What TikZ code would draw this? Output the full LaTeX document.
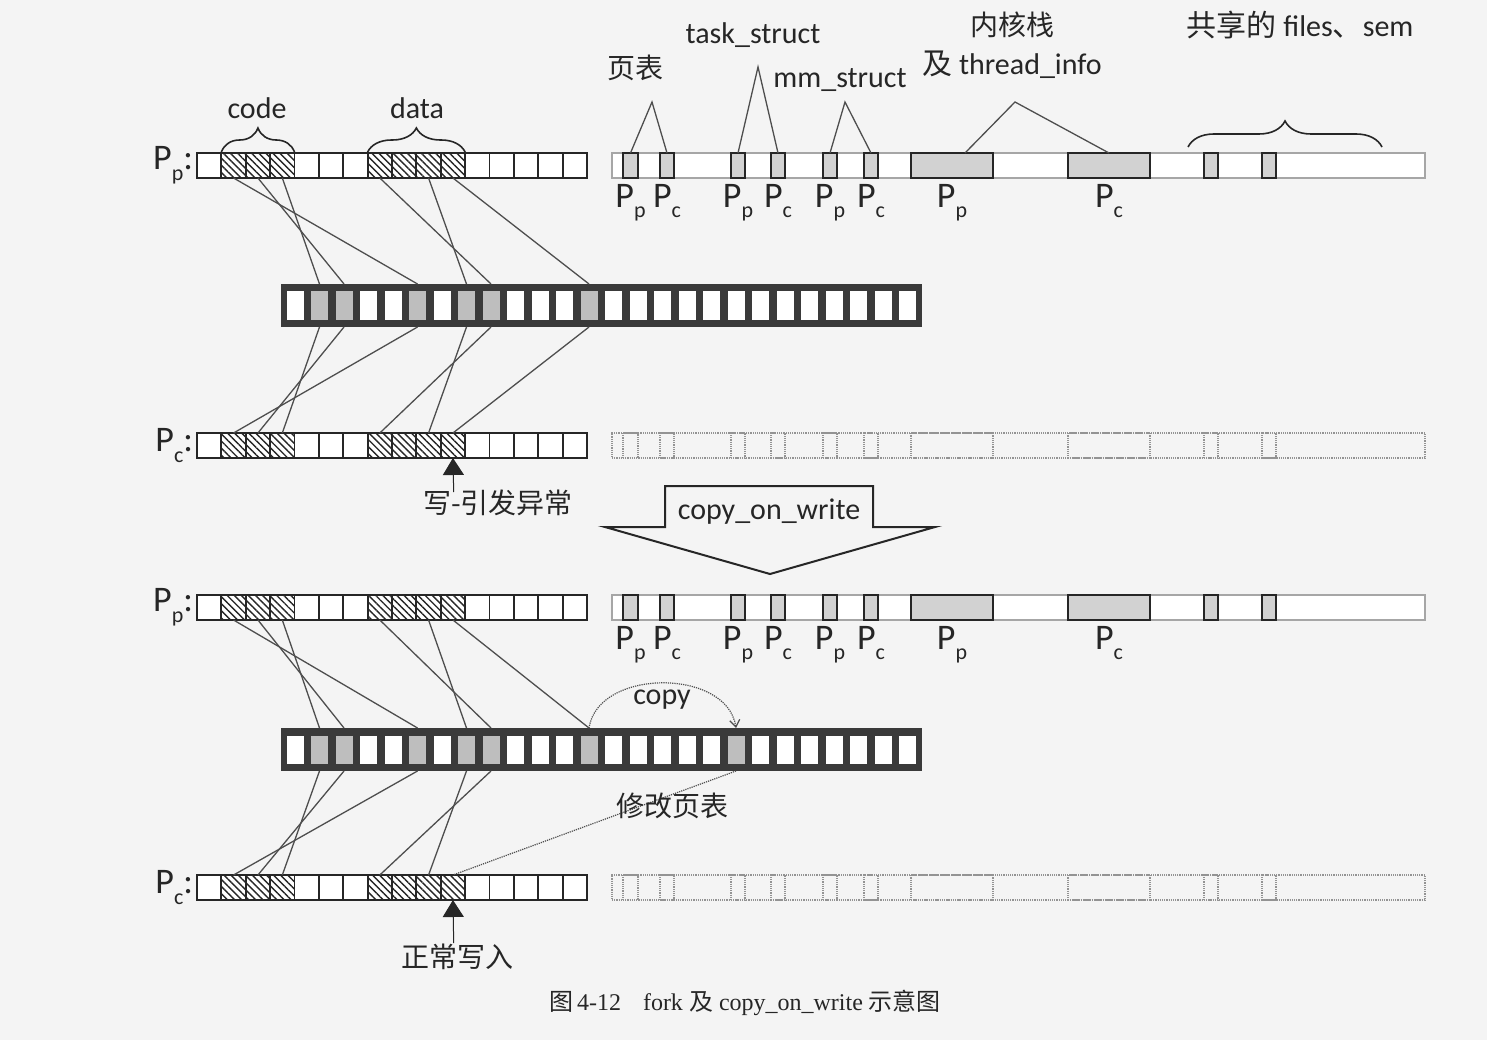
\documentclass[tikz,border=0pt]{standalone}
\usepackage{fontspec}
\setmainfont{Carlito}
\newfontfamily\cjk{Noto Sans CJK SC}
\newfontfamily\capserif{Liberation Serif}
\usetikzlibrary{patterns.meta,decorations.pathreplacing,arrows.meta,calc}
\definecolor{ink}{HTML}{262626}
\definecolor{lnk}{HTML}{4E4E4E}
\definecolor{memdark}{HTML}{3A3A3A}
\definecolor{shadec}{HTML}{BEBEBE}
\definecolor{boxfill}{HTML}{D2D2D2}
\definecolor{pagebg}{HTML}{F4F4F4}
\newcommand\fsz[1]{\fontsize{#1}{#1}\selectfont}
\newcommand\Psub[1]{P\raisebox{-0.3em}{\fsz{22}#1}}
\newcommand\leftrow[2]{%
  \foreach \k in {0,4,5,6,11,12,13,14,15}{\node[cellbox] (#1-\k) at ({209.1875+24.375*\k},#2) {};}
  \foreach \k in {1,2,3,7,8,9,10}{\node[hatchbox] (#1-\k) at ({209.1875+24.375*\k},#2) {};}
}
\newcommand\memrow[3]{%
  \node[membar] (#1-bar) at (601.5,#2) {};
  \foreach \k in {#3}{\node[memcell] (#1-\k) at ({295+24.5*\k},#2) {};}
}
\newcommand\rightrow[3]{%
  \node[#3bar] (#1-bar) at (1018.5,#2) {};
  \foreach \i/\xc/\w in {1/630.5/15,2/667/14,3/738/14,4/778/14,5/830/14,6/871/14,7/952/82,8/1109/82,9/1211/14,10/1269/14}
    {\node[#3box,minimum width=\w pt] (#1-b\i) at (\xc,#2) {};}
}
\begin{document}
\begin{tikzpicture}[x=1pt,y=-1pt,
  every node/.style={inner sep=0pt,outer sep=0pt},
  cellbase/.style={draw=ink,line width=1.8pt,minimum width=24.375pt,minimum height=25pt},
  cellbox/.style={cellbase,fill=white},
  hatchbox/.style={cellbase,preaction={fill=white},pattern={Lines[angle=-45,distance=5pt,line width=1.4pt]},pattern color=ink},
  membar/.style={fill=memdark,draw=none,minimum width=641pt,minimum height=43pt},
  memcell/.style={fill=white,draw=none,minimum width=17pt,minimum height=28pt,outer xsep=0pt,outer ysep=7.5pt},
  memshade/.style={memcell,fill=shadec},
  solidbar/.style={draw=gray!70,line width=1.4pt,fill=white,minimum width=813pt,minimum height=25pt},
  solidbox/.style={draw=ink,line width=2pt,fill=boxfill,minimum height=25pt},
  dashbar/.style={draw=gray!85,densely dotted,line width=1.2pt,minimum width=813pt,minimum height=25pt},
  dashbox/.style={draw=gray!85,densely dotted,line width=1.2pt,minimum height=25pt},
  conn/.style={draw=lnk,line width=1.3pt},
  lab/.style={text=ink,font=\fsz{30}},
  cjklab/.style={text=ink,font=\cjk\fsz{28}},
  plab/.style={text=ink,font=\fsz{36}},
  bracest/.style={draw=ink,line width=1.6pt,decorate},
]
\fill[pagebg] (0,0) rectangle (1487,1040);
\useasboundingbox (0,0) rectangle (1487,1040);

% ---------------- rows ----------------
\leftrow{ra}{165.5}
\leftrow{rc}{445.5}
\leftrow{rd}{607.5}
\leftrow{rf}{887.5}
\memrow{ma}{305.5}{0,3,4,6,9,10,11,13,14,...,25}
\foreach \k in {1,2,5,7,8,12}{\node[memshade] (ma-\k) at ({295+24.5*\k},305.5) {};}
\memrow{mb}{749.5}{0,3,4,6,9,10,11,13,14,15,16,17,19,20,...,25}
\foreach \k in {1,2,5,7,8,12,18}{\node[memshade] (mb-\k) at ({295+24.5*\k},749.5) {};}
\rightrow{Ra}{165.5}{solid}
\rightrow{Rc}{445.5}{dash}
\rightrow{Rd}{607.5}{solid}
\rightrow{Rf}{887.5}{dash}

% left labels
\node[plab,anchor=east] (la) at (193,165.5) {\Psub{p}:};
\node[plab,anchor=east] (lc) at (193,445.5) {\Psub{c}:};
\node[plab,anchor=east] (ld) at (193,607.5) {\Psub{p}:};
\node[plab,anchor=east] (lf) at (193,887.5) {\Psub{c}:};

% labels under right boxes
\foreach \r in {Ra,Rd}{
  \foreach \i/\s in {1/p,2/c,3/p,4/c,5/p,6/c,7/p,8/c}{
    \node[plab,anchor=north] (\r-l\i) at ($(\r-b\i.south)+(0,6)$) {\Psub{\s}};
  }
}

% braces and top labels
\draw[bracest,decoration={brace,amplitude=24pt,raise=1pt}] (ra-1.north west) -- (ra-3.north east);
\draw[bracest,decoration={brace,amplitude=24pt,raise=1pt}] (ra-7.north west) -- (ra-10.north east);
\node[lab] (tcode) at (257,108) {code};
\node[lab] (tdata) at (417,108) {data};

\node[cjklab] (tpt) at (635,68) {页表};
\node[lab] (tts) at (753,35) {task\_struct};
\node[lab] (tmm) at (840,80) {mm\_struct};
\node[cjklab] (tks) at (1012,25) {内核栈};
\node[lab] (tti) at (1012,65) {{\cjk 及} thread\_info};
\node[lab] (tsh) at (1300,25) {{\cjk 共享的} files{\cjk 、}sem};

\coordinate (apx1) at (652,102);
\coordinate (apx2) at (758,67);
\coordinate (apx3) at (845,102);
\coordinate (apx4) at (1015,102);
\draw[conn] (Ra-b1.north) -- (apx1) -- (Ra-b2.north);
\draw[conn] (Ra-b3.north) -- (apx2) -- (Ra-b4.north);
\draw[conn] (Ra-b5.north) -- (apx3) -- (Ra-b6.north);
\draw[conn] ($(Ra-b7.north)+(13,0)$) -- (apx4) -- (Ra-b8.north);
\coordinate (shL) at (1188,147);
\coordinate (shR) at (1382,147);
\draw[bracest,decoration={brace,amplitude=26pt}] (shL) -- (shR);

% ---------------- mappings ----------------
\foreach \a/\b in {1/5,2/2,3/1,7/8,9/7,10/12}{
  \draw[conn] (ra-\a.south) -- (ma-\b.north);
  \draw[conn] (rd-\a.south) -- (mb-\b.north);
}
\foreach \b/\a in {1/3,2/2,5/1,7/9,8/7,12/10}{
  \draw[conn] (ma-\b.south) -- (rc-\a.north);
}
\foreach \b/\a in {1/3,2/2,5/1,7/9,8/7}{
  \draw[conn] (mb-\b.south) -- (rf-\a.north);
}
\draw[lnk,line width=1.2pt,densely dotted] (mb-18.south) -- (rf-10.north);
\draw[lnk,line width=1.2pt,densely dotted,-{Straight Barb[length=7pt,width=10pt]}]
  (mb-12.north) .. controls (598,668) and (727,668) .. (mb-18.north);
\node[lab] (tcopy) at (662,700) {copy};
\node[cjklab] (tmod) at (672,806) {修改页表};

% write arrows
\coordinate (w1) at (453.7,492);
\draw[ink,line width=1pt,-{Triangle[length=17pt,width=21pt]}] (w1) -- (rc-10.south);
\node[cjklab] (twr) at (498,503) {写-引发异常};
\coordinate (w2) at (453.7,943);
\draw[ink,line width=1pt,-{Triangle[length=17pt,width=21pt]}] (w2) -- (rf-10.south);
\node[cjklab] (tnw) at (457,957) {正常写入};

% big copy_on_write arrow
\draw[ink,line width=2pt,line join=miter] (665,486) -- (873,486) -- (873,527) -- (935,527) -- (770,574) -- (605,527) -- (665,527) -- cycle;
\node[lab] (tcow) at (769,512) {copy\_on\_write};

% caption
\node[text=ink,font=\capserif\fsz{24}] (cap) at (745,1003) {{\cjk 图}\,4-12\hspace{22pt}fork {\cjk 及} copy\_on\_write {\cjk 示意图}};
\end{tikzpicture}
\end{document}
